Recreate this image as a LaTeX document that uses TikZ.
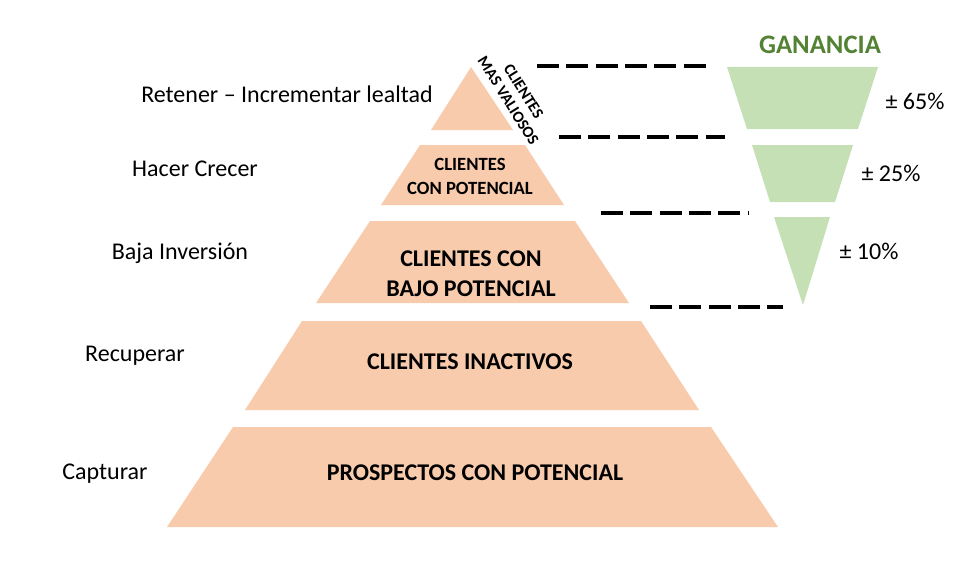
\documentclass[tikz,border=0pt]{standalone}
\usepackage{fontspec}
\setmainfont{Carlito}
\definecolor{peach}{HTML}{F8CBAD}
\definecolor{lgreen}{HTML}{C5E0B4}
\definecolor{dgreen}{HTML}{548235}
\begin{document}
\begin{tikzpicture}[x=0.75pt,y=-0.75pt,
  tier/.style={fill=peach,draw=none},
  fun/.style={fill=lgreen,draw=none},
  lbl/.style={font=\fontsize{18}{21}\selectfont,inner sep=0pt},
  tiertxt/.style={font=\fontsize{18}{22.5}\selectfont\bfseries,align=center,inner sep=0pt},
  pct/.style={font=\fontsize{18}{21}\selectfont,inner sep=0pt},
  dashline/.style={line width=2.3pt,dash pattern=on 16.5pt off 5.5pt}]
\useasboundingbox (0,0) rectangle (973,567);
% pyramid
\fill[tier] (471,67) -- (513,130) -- (431,130) -- cycle;
\fill[tier] (420,145) -- (525,145) -- (564,205) -- (381,205) -- cycle;
\fill[tier] (370,221) -- (575,221) -- (629,303) -- (316,303) -- cycle;
\fill[tier] (302,321) -- (641,321) -- (699,410) -- (245,410) -- cycle;
\fill[tier] (233,427) -- (711,427) -- (778,527) -- (167,527) -- cycle;
% funnel
\fill[fun] (727,67) -- (878,67) -- (858,129) -- (747,129) -- cycle;
\fill[fun] (752,145) -- (853,145) -- (835,202) -- (770,202) -- cycle;
\fill[fun] (774,217) -- (830,217) -- (803,305) -- cycle;
% tier texts
\node[font=\fontsize{12}{13.5}\selectfont\bfseries,align=center,inner sep=0pt,rotate=-58] (t1) at (516,96) {CLIENTES\\MAS VALIOSOS};
\node[tiertxt,font=\fontsize{14}{18}\selectfont\bfseries] (t2) at (470,176) {CLIENTES\\CON POTENCIAL};
\node[tiertxt] (t3) at (471,274) {CLIENTES CON\\BAJO POTENCIAL};
\node[tiertxt] (t4) at (470,362) {CLIENTES INACTIVOS};
\node[tiertxt] (t5) at (475,473) {PROSPECTOS CON POTENCIAL};
% left labels
\node[lbl] (l1) at (287,94) {Retener – Incrementar lealtad};
\node[lbl] (l2) at (195,169) {Hacer Crecer};
\node[lbl] (l3) at (180,253) {Baja Inversión};
\node[lbl] (l4) at (135,356) {Recuperar};
\node[lbl] (l5) at (105,474) {Capturar};
% funnel labels
\node[font=\fontsize{20}{24}\selectfont\bfseries,text=dgreen,inner sep=0pt] (g) at (820,45) {GANANCIA};
\node[pct] (p1) at (915,101) {± 65\%};
\node[pct] (p2) at (891,173) {± 25\%};
\node[pct] (p3) at (869,251) {± 10\%};
% dashed connectors
\coordinate (a1) at (537,66); \coordinate (b1) at (706,66);
\coordinate (a2) at (559,137); \coordinate (b2) at (725,137);
\coordinate (a3) at (601,213); \coordinate (b3) at (749,213);
\coordinate (a4) at (650,307); \coordinate (b4) at (783,307);
\draw[dashline] (a1) -- (b1);
\draw[dashline] (a2) -- (b2);
\draw[dashline] (a3) -- (b3);
\draw[dashline] (a4) -- (b4);
\end{tikzpicture}
\end{document}
